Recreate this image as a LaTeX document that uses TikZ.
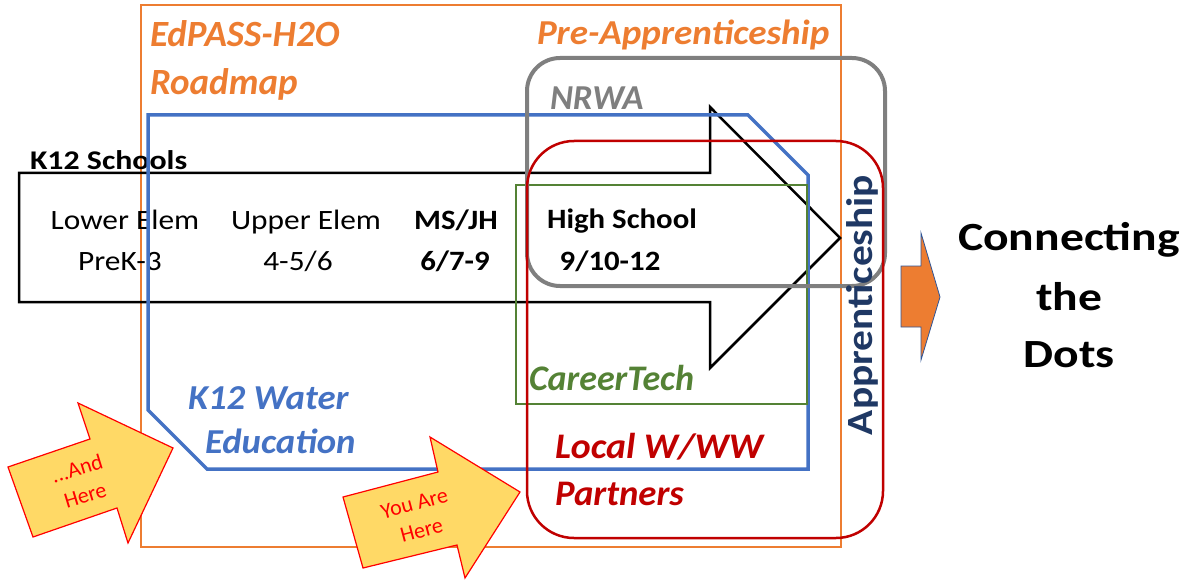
\documentclass[tikz,border=0pt]{standalone}
\usepackage{fontspec}
\setmainfont{Carlito}
\usepackage{graphicx}
\definecolor{orng}{HTML}{ED7D31}
\definecolor{bluel}{HTML}{4472C4}
\definecolor{grayl}{HTML}{7F7F7F}
\definecolor{redl}{HTML}{C00000}
\definecolor{greenl}{HTML}{548235}
\definecolor{navy}{HTML}{1F3864}
\definecolor{yel}{HTML}{FFD966}
\definecolor{arrblue}{HTML}{2F5597}
\newcommand\fsz[1]{\fontsize{#1}{#1}\selectfont}
\newcommand\hsc[2]{\scalebox{#1}[1]{#2}}
\begin{document}
\begin{tikzpicture}[x=1pt,y=-1pt,
  txt/.style={inner sep=0pt, outer sep=0pt},
  school/.style={txt, anchor=base, font=\fsz{28}},
  schoolb/.style={txt, anchor=base, font=\fsz{28}\bfseries},
  lbl/.style={txt, anchor=base west, font=\fsz{36}\bfseries\itshape},
  big/.style={txt, anchor=base, font=\fsz{40}\bfseries},
  yarrow/.style={fill=yel, draw=red, line width=1.2pt, line join=miter},
  ytext/.style={txt, align=center, text=red, font=\fontsize{22}{28}\selectfont}]
\useasboundingbox (0,0) rectangle (1190,580);

% orange frame
\draw[orng, line width=2.5pt] (141,5) rectangle (841,547);

% black K12 arrow
\draw[black, line width=2.5pt, line join=miter] (19,173) -- (710,173) -- (710,107) -- (840,238) -- (710,368) -- (710,302) -- (19,302) -- cycle;
\node[txt, anchor=base west, font=\fsz{27}\bfseries] (k12) at (30,170) {\hsc{1.18}{K12 Schools}};
\node[school] (le1) at (125,229) {\hsc{1.12}{Lower Elem}};
\node[school] (le2) at (120,270) {\hsc{1.12}{PreK-3}};
\node[school] (ue1) at (306,229) {\hsc{1.12}{Upper Elem}};
\node[school] (ue2) at (298,270) {\hsc{1.12}{4-5/6}};
\node[schoolb] (ms1) at (456,229) {\hsc{1.1}{MS/JH}};
\node[schoolb] (ms2) at (455,270) {\hsc{1.1}{6/7-9}};
\node[schoolb] (hs1) at (622,228) {\hsc{1.1}{High School}};
\node[schoolb] (hs2) at (610,270) {\hsc{1.1}{9/10-12}};

% blue K12 water education
\draw[bluel, line width=3.5pt, line join=miter] (148,115) -- (748,115) -- (808,175) -- (808,469) -- (207,469) -- (148,410) -- cycle;

% green careertech
\draw[greenl, line width=2.5pt] (516,185) rectangle (807,404);

% gray NRWA
\draw[grayl, line width=4pt, rounded corners=33pt] (527,58) rectangle (885,286);

% red local partners
\draw[redl, line width=2.5pt, rounded corners=47pt] (527,141) rectangle (883,538);

% labels
\node[lbl, text=orng, font=\fsz{37}\bfseries\itshape] (ed1) at (150,47) {EdPASS-H2O};
\node[lbl, text=orng, font=\fsz{37}\bfseries\itshape] (ed2) at (150,95) {Roadmap};
\node[lbl, text=orng, font=\fsz{35}\bfseries\itshape] (pre) at (537,45) {\hsc{1.06}{Pre-Apprenticeship}};
\node[lbl, text=grayl, font=\fsz{35}\bfseries\itshape] (nrwa) at (550,110) {NRWA};
\node[lbl, text=bluel, font=\fsz{35}\bfseries\itshape] (kw1) at (188,409) {\hsc{1.05}{K12 Water}};
\node[lbl, text=bluel, font=\fsz{35}\bfseries\itshape] (kw2) at (205,453) {\hsc{1.05}{Education}};
\node[lbl, text=greenl] (ct) at (529,390) {CareerTech};
\node[lbl, text=redl] (lp1) at (555,458) {\hsc{1.05}{Local W/WW}};
\node[lbl, text=redl] (lp2) at (555,505) {\hsc{1.02}{Partners}};

\node[txt, anchor=base, rotate=90, text=navy, font=\fsz{37}\bfseries] (app) at (872,305) {\hsc{1.12}{Apprenticeship}};

% orange arrow and connecting the dots
\draw[fill=orng, draw=arrblue, line width=0.8pt] (901,266) -- (921,266) -- (921,233) -- (940,297) -- (921,360) -- (921,327) -- (901,327) -- cycle;
\node[big] (c1) at (1069,250) {\hsc{1.19}{Connecting}};
\node[big] (c2) at (1069,310) {\hsc{1.19}{the}};
\node[big] (c3) at (1069,367) {\hsc{1.19}{Dots}};

% yellow arrows
\draw[yarrow] (8,467) -- (90,439) -- (78,403) -- (173,448) -- (128,543) -- (117,508) -- (33,537) -- cycle;
\node[ytext, rotate=17] (and) at (81,482) {...And\\Here};
\draw[yarrow] (343,497) -- (438,472) -- (430,437) -- (520,492) -- (465,578) -- (457,545) -- (363,568) -- cycle;
\node[ytext, rotate=15] (you) at (418,517) {You Are\\Here};
\end{tikzpicture}
\end{document}
